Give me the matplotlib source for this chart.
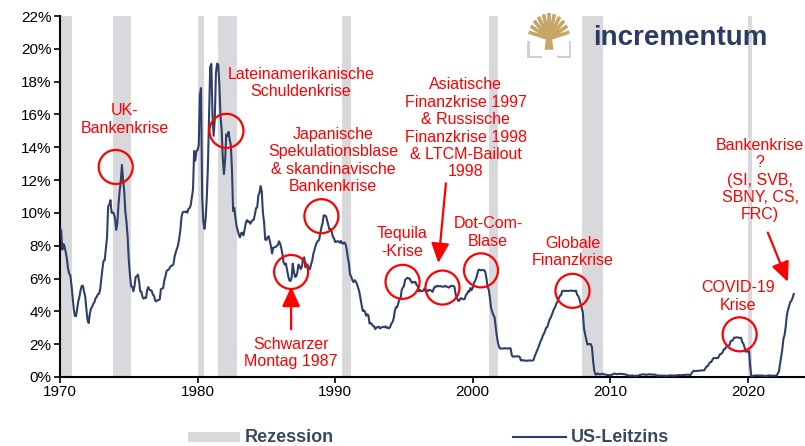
import numpy as np
import matplotlib.pyplot as plt
from matplotlib.lines import Line2D
from matplotlib.patches import Rectangle, Polygon

plt.rcParams['font.family'] = ['Liberation Sans', 'DejaVu Sans']

# ===================== Daten: US-Leitzins (Monatswerte, ab Jan 1970) =====================
rate_1970s = [
    8.98, 8.98, 7.76, 8.10, 7.95, 7.61, 7.21, 6.61, 6.29, 6.20, 5.60, 4.90,
    4.14, 3.72, 3.71, 4.15, 4.63, 4.91, 5.31, 5.56, 5.55, 5.20, 4.91, 4.14,
    3.50, 3.29, 3.83, 4.17, 4.27, 4.46, 4.55, 4.80, 4.87, 5.04, 5.06, 5.33,
    5.94, 6.58, 7.09, 7.12, 7.84, 8.49, 10.40, 10.50, 10.78, 10.01, 10.03, 9.95,
    9.65, 8.97, 9.35, 10.51, 11.31, 11.93, 12.92, 12.01, 11.34, 10.06, 9.45, 8.53,
    7.13, 6.24, 5.54, 5.49, 5.22, 5.55, 6.10, 6.14, 6.24, 5.82, 5.22, 5.20,
    4.87, 4.77, 4.84, 4.82, 5.29, 5.48, 5.31, 5.29, 5.25, 5.02, 4.95, 4.65,
    4.61, 4.68, 4.69, 4.73, 5.35, 5.39, 5.42, 5.90, 6.14, 6.47, 6.51, 6.56,
    6.70, 6.78, 6.79, 6.89, 7.36, 7.60, 7.81, 8.04, 8.45, 8.96, 9.76, 10.03,
    10.07, 10.06, 10.09, 10.01, 10.24, 10.29, 10.47, 10.94, 11.43, 13.77, 13.18, 13.78,
]
rate_1980s = [
    13.82, 14.13, 17.19, 17.61, 10.98, 9.47, 9.03, 9.61, 10.87, 12.81, 15.85, 18.90,
    19.08, 15.93, 14.70, 15.72, 18.52, 19.10, 19.04, 17.82, 15.87, 15.08, 13.31, 12.37,
    13.22, 14.78, 14.68, 14.94, 14.45, 14.15, 12.59, 10.12, 10.31, 9.71, 9.20, 8.95,
    8.68, 8.51, 8.77, 8.80, 8.63, 8.98, 9.37, 9.56, 9.45, 9.48, 9.34, 9.47,
    9.56, 9.59, 9.91, 10.29, 10.32, 11.06, 11.23, 11.64, 11.30, 9.99, 9.43, 8.38,
    8.35, 8.50, 8.58, 8.27, 7.97, 7.53, 7.88, 7.90, 7.92, 7.99, 8.05, 8.27,
    8.14, 7.86, 7.48, 6.99, 6.85, 6.92, 6.56, 6.17, 5.89, 5.85, 6.04, 6.91,
    6.43, 6.10, 6.13, 6.37, 6.85, 6.73, 6.58, 6.73, 7.22, 7.29, 6.69, 6.77,
    6.83, 6.58, 6.58, 6.87, 7.09, 7.51, 7.75, 8.01, 8.19, 8.30, 8.35, 8.76,
    9.12, 9.36, 9.85, 9.84, 9.81, 9.53, 9.24, 8.99, 9.02, 8.84, 8.55, 8.45,
]
rate_1990s = [
    8.23, 8.24, 8.28, 8.26, 8.18, 8.29, 8.15, 8.13, 8.20, 8.11, 7.81, 7.31,
    6.91, 6.25, 6.12, 5.91, 5.78, 5.90, 5.82, 5.66, 5.45, 5.21, 4.81, 4.43,
    4.03, 4.06, 3.98, 3.73, 3.82, 3.76, 3.25, 3.30, 3.22, 3.10, 3.09, 2.92,
    3.02, 3.03, 3.07, 2.96, 3.00, 3.04, 3.06, 3.03, 3.09, 2.99, 3.02, 2.96,
    3.05, 3.25, 3.34, 3.56, 4.01, 4.25, 4.26, 4.47, 4.73, 4.76, 5.29, 5.45,
    5.53, 5.92, 5.98, 6.05, 6.01, 6.00, 5.85, 5.74, 5.80, 5.76, 5.80, 5.60,
    5.56, 5.22, 5.31, 5.22, 5.24, 5.27, 5.40, 5.22, 5.30, 5.24, 5.31, 5.29,
    5.25, 5.19, 5.39, 5.51, 5.50, 5.56, 5.52, 5.54, 5.54, 5.50, 5.52, 5.50,
    5.56, 5.51, 5.49, 5.45, 5.49, 5.56, 5.54, 5.55, 5.51, 5.07, 4.83, 4.68,
    4.63, 4.76, 4.81, 4.74, 4.74, 4.76, 4.99, 5.07, 5.22, 5.20, 5.42, 5.30,
]
rate_2000s = [
    5.45, 5.73, 5.85, 6.02, 6.27, 6.53, 6.54, 6.50, 6.52, 6.51, 6.51, 6.40,
    5.98, 5.49, 5.31, 4.80, 4.21, 3.97, 3.77, 3.65, 3.07, 2.49, 2.09, 1.82,
    1.73, 1.74, 1.73, 1.75, 1.75, 1.75, 1.73, 1.74, 1.75, 1.75, 1.34, 1.24,
    1.24, 1.26, 1.25, 1.26, 1.26, 1.22, 1.01, 1.03, 1.01, 1.01, 1.00, 0.98,
    1.00, 1.01, 1.00, 1.00, 1.00, 1.03, 1.26, 1.43, 1.61, 1.76, 1.93, 2.16,
    2.28, 2.50, 2.63, 2.79, 3.00, 3.04, 3.26, 3.50, 3.62, 3.78, 4.00, 4.16,
    4.29, 4.49, 4.59, 4.79, 4.94, 4.99, 5.24, 5.25, 5.25, 5.25, 5.25, 5.24,
    5.25, 5.26, 5.26, 5.25, 5.25, 5.25, 5.26, 5.02, 4.94, 4.76, 4.49, 4.24,
    3.94, 2.98, 2.61, 2.28, 1.98, 2.00, 2.01, 2.00, 1.81, 0.97, 0.39, 0.16,
    0.15, 0.22, 0.18, 0.15, 0.18, 0.21, 0.16, 0.16, 0.15, 0.12, 0.12, 0.12,
]
rate_2010s = [
    0.11, 0.13, 0.16, 0.20, 0.20, 0.18, 0.18, 0.19, 0.19, 0.19, 0.19, 0.18,
    0.17, 0.16, 0.14, 0.10, 0.09, 0.09, 0.07, 0.10, 0.08, 0.07, 0.08, 0.07,
    0.08, 0.10, 0.13, 0.14, 0.16, 0.16, 0.16, 0.13, 0.14, 0.16, 0.16, 0.16,
    0.14, 0.15, 0.14, 0.15, 0.11, 0.09, 0.09, 0.08, 0.08, 0.09, 0.08, 0.09,
    0.07, 0.07, 0.08, 0.09, 0.09, 0.10, 0.09, 0.09, 0.09, 0.09, 0.09, 0.12,
    0.11, 0.11, 0.11, 0.12, 0.12, 0.13, 0.13, 0.14, 0.14, 0.12, 0.12, 0.24,
    0.34, 0.38, 0.36, 0.37, 0.37, 0.38, 0.39, 0.40, 0.40, 0.40, 0.41, 0.54,
    0.65, 0.66, 0.79, 0.90, 0.91, 1.04, 1.15, 1.16, 1.15, 1.15, 1.16, 1.30,
    1.41, 1.42, 1.51, 1.69, 1.70, 1.82, 1.91, 1.91, 1.95, 2.19, 2.20, 2.27,
    2.40, 2.40, 2.41, 2.42, 2.39, 2.38, 2.40, 2.13, 2.04, 1.83, 1.55, 1.55,
]
rate_2020s = [
    1.55, 1.58, 0.65, 0.05, 0.05, 0.08, 0.09, 0.10, 0.09, 0.09, 0.09, 0.09,
    0.09, 0.08, 0.07, 0.07, 0.06, 0.08, 0.10, 0.09, 0.08, 0.08, 0.08, 0.08,
    0.08, 0.08, 0.20, 0.33, 0.77, 1.21, 1.68, 2.33, 2.56, 3.08, 3.78, 4.10,
    4.33, 4.57, 4.65, 4.83, 5.06,
]
leitzins = np.array(rate_1970s + rate_1980s + rate_1990s + rate_2000s + rate_2010s + rate_2020s)
jahre = 1970 + np.arange(len(leitzins)) / 12.0

# Rezessionen (NBER, als Dezimaljahre)
rez_start = [1970.0, 1973.83, 1980.0, 1981.5, 1990.5, 2001.17, 2007.92, 2020.0]
rez_ende = [1970.88, 1975.17, 1980.5, 1982.88, 1991.17, 2001.83, 2009.45, 2020.3]

# Annotationen: Text und Textposition (Jahr, %), Kreise (Jahr, %)
anno_text = ["UK-\nBankenkrise", "Lateinamerikanische\nSchuldenkrise",
             "Japanische\nSpekulationsblase\n& skandinavische\nBankenkrise",
             "Asiatische\nFinanzkrise 1997\n& Russische\nFinanzkrise 1998\n& LTCM-Bailout\n1998",
             "Tequila\n-Krise", "Dot-Com-\nBlase", "Globale\nFinanzkrise", "COVID-19\nKrise",
             "Bankenkrise\n?\n(SI, SVB,\nSBNY, CS,\nFRC)", "Schwarzer\nMontag 1987"]
anno_x = [1974.7, 1987.5, 1989.85, 1999.5, 1994.85, 2001.1, 2007.3, 2019.3, 2020.9, 1986.8]
anno_y = [15.7, 17.9, 13.2, 15.15, 8.2, 8.8, 7.6, 4.9, 12.0, 1.45]
kreis_x = [1974.05, 1982.1, 1989.0, 1986.8, 1994.9, 1997.8, 2000.6, 2007.25, 2019.4]
kreis_y = [12.8, 15.0, 9.8, 6.4, 5.8, 5.45, 6.5, 5.25, 2.6]

rot = "#FF0000"
navy = "#2E4068"

fig = plt.figure(figsize=(8.05, 4.46), dpi=100)
ax = fig.add_axes([60 / 805, 1 - 377 / 446, 1 - 60 / 805, (377 - 16) / 446])

for s, e in zip(rez_start, rez_ende):
    ax.axvspan(s, e, color="#D9D9DD", lw=0, zorder=0)

ax.plot(jahre, leitzins, color=navy, lw=1.5, zorder=3)

ax.set_xlim(1970, 2024.15)
ax.set_ylim(0, 22)
ax.set_xticks([1970, 1980, 1990, 2000, 2010, 2020])
ax.set_yticks(np.arange(0, 23, 2))
ax.set_yticklabels([f"{v}%" for v in range(0, 23, 2)])
ax.tick_params(axis="both", labelsize=11, length=4, width=1.2, colors="black", pad=2)
for side in ["top", "right"]:
    ax.spines[side].set_visible(False)
for side in ["left", "bottom"]:
    ax.spines[side].set_linewidth(1.5)

# Kreise
ax.scatter(kreis_x, kreis_y, s=600, facecolors="none", edgecolors=rot, linewidths=1.6, zorder=4)

# Texte
for t, x, y in zip(anno_text, anno_x, anno_y):
    ax.text(x, y, t, color=rot, fontsize=11.5, ha="center", va="center", linespacing=1.2, zorder=5)

# Pfeile
pfeil = dict(arrowstyle="-|>,head_length=1.2,head_width=0.55", color=rot, lw=1.6, shrinkA=0, shrinkB=0)
ax.annotate("", xy=(1997.5, 6.95), xytext=(1998.05, 11.8), arrowprops=pfeil)
ax.annotate("", xy=(2022.9, 5.8), xytext=(2021.45, 8.8), arrowprops=pfeil)
ax.annotate("", xy=(1986.8, 5.5), xytext=(1986.8, 2.9), arrowprops=pfeil)

# Logo
logo = fig.add_axes([527 / 805, 1 - 58 / 446, 44 / 805, 46 / 446])
logo.set_xlim(0, 1)
logo.set_ylim(0, 1)
logo.axis("off")
gold = "#C6A664"
logo.add_patch(Polygon([[0.40, 0.18], [0.60, 0.18], [0.56, 0.50], [0.44, 0.50]], color=gold, lw=0))
for ang in np.linspace(15, 165, 11):
    r = np.radians(ang)
    logo.plot([0.5, 0.5 + 0.48 * np.cos(r)], [0.42, 0.42 + 0.55 * np.sin(r)], color=gold, lw=2.6,
              solid_capstyle="butt")
grau = "#D0D0D0"
logo.plot([0.03, 0.03, 0.30], [0.35, 0.03, 0.03], color=grau, lw=2.2)
logo.plot([0.97, 0.97, 0.70], [0.35, 0.03, 0.03], color=grau, lw=2.2)
fig.text(593 / 805, 1 - 38 / 446, "incrementum", color="#2B3B64", fontsize=20, fontweight="bold",
         ha="left", va="center")

# Legende
leg_farbe = "#3A4A5E"
fig.patches.append(Rectangle((188 / 805, 1 - 442 / 446), 52 / 805, 10 / 446, transform=fig.transFigure,
                             color="#D9D9DD", lw=0))
fig.text(245 / 805, 1 - 437 / 446, "Rezession", color=leg_farbe, fontsize=13, fontweight="bold",
         ha="left", va="center")
fig.lines.append(Line2D([513 / 805, 566 / 805], [1 - 437 / 446, 1 - 437 / 446], transform=fig.transFigure,
                        color=navy, lw=1.5))
fig.text(571 / 805, 1 - 437 / 446, "US-Leitzins", color=leg_farbe, fontsize=13, fontweight="bold",
         ha="left", va="center")

fig.savefig("out.png", dpi=100)
plt.close()
